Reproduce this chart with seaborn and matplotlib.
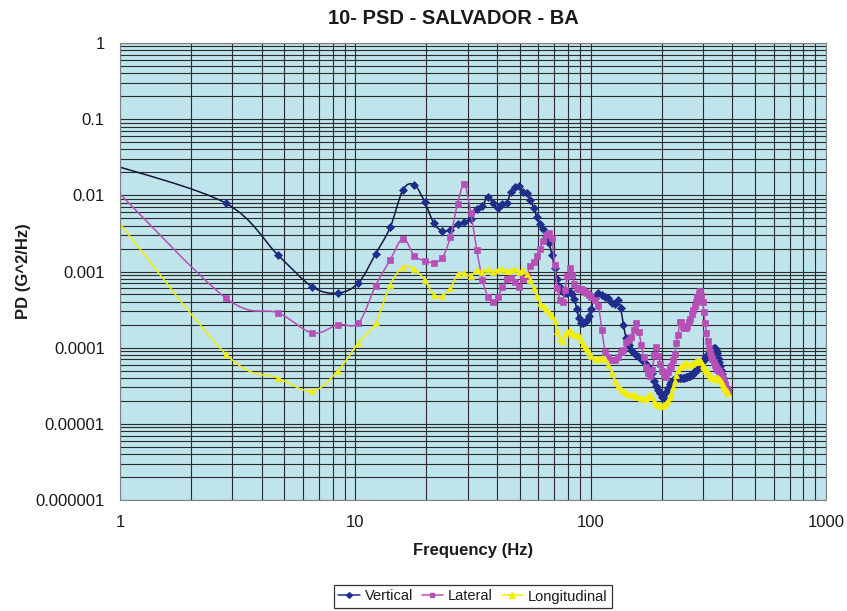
import numpy as np
import pandas as pd
import matplotlib
matplotlib.use("Agg")
import matplotlib.pyplot as plt
import seaborn as sns
from matplotlib.ticker import FixedLocator, FixedFormatter, LogLocator, NullFormatter
from matplotlib.path import Path
from matplotlib.patches import PathPatch
from matplotlib.lines import Line2D

# ---------------- data ----------------
freq = [0.9375, 2.8125, 4.6875, 6.5625, 8.4375, 10.3125, 12.1875, 14.0625, 15.9375, 17.8125,
        19.6875, 21.5625, 23.4375, 25.3125, 27.1875, 29.0625, 30.9375, 32.8125, 34.6875, 36.5625,
        38.4375, 40.3125, 42.1875, 44.0625, 45.9375, 47.8125, 49.6875, 51.5625, 53.4375, 55.3125,
        57.1875, 59.0625, 60.9375, 62.8125, 64.6875, 66.5625, 68.4375, 70.3125, 72.1875, 74.0625,
        75.9375, 77.8125, 79.6875, 81.5625, 83.4375, 85.3125, 87.1875, 89.0625, 90.9375, 92.8125,
        94.6875, 96.5625, 98.4375, 100.3125,
        104.0625, 107.8125, 111.5625, 115.3125, 119.0625, 122.8125, 126.5625, 130.3125, 134.0625, 137.8125,
        141.5625, 145.3125, 149.0625, 152.8125, 156.5625, 160.3125, 164.0625, 167.8125, 171.5625, 175.3125,
        179.0625, 182.8125, 186.5625, 190.3125, 194.0625, 197.8125, 201.5625, 205.3125, 209.0625, 212.8125,
        216.5625, 220.3125, 224.0625, 227.8125, 231.5625, 235.3125, 239.0625, 242.8125, 246.5625, 250.3125,
        254.0625, 257.8125, 261.5625, 265.3125, 269.0625, 272.8125, 276.5625, 280.3125, 284.0625, 287.8125,
        291.5625, 295.3125, 299.0625, 302.8125, 306.5625, 310.3125, 314.0625, 317.8125, 321.5625, 325.3125,
        329.0625, 332.8125, 336.5625, 340.3125, 344.0625, 347.8125, 351.5625, 355.3125, 359.0625, 362.8125,
        366.5625, 370.3125, 374.0625, 377.8125, 381.5625]

vertical = [0.025, 0.0079, 0.00165, 0.00063, 0.00052, 0.00071, 0.0017, 0.0038, 0.0118, 0.0137,
            0.00826, 0.0043, 0.00341, 0.00352, 0.00418, 0.00444, 0.00495, 0.00657, 0.00732, 0.00962,
            0.00788, 0.0069, 0.00764, 0.00802, 0.0112, 0.0128, 0.0134, 0.0112,
            0.0106, 0.0087, 0.00684, 0.0052, 0.00421, 0.00362, 0.00293, 0.00237, 0.00165, 0.00112,
            0.0008, 0.000628, 0.00054, 0.000524, 0.000524, 0.00054, 0.000508, 0.000437, 0.000323, 0.000246,
            0.000211, 0.000211, 0.000218, 0.000232, 0.000261, 0.000323,
            0.00045, 0.000524, 0.000493, 0.000464, 0.00045, 0.000387, 0.000376, 0.000424, 0.000333, 0.000199,
            0.000134, 0.000109, 0.0000936, 0.0000855, 0.0000804, 0.0000757, 0.0000713, 0.0000651, 0.0000613, 0.000056,
            0.0000527, 0.0000467, 0.0000367, 0.0000316, 0.000028, 0.0000255, 0.0000226, 0.0000219, 0.0000263, 0.0000297,
            0.0000335, 0.0000356, 0.0000378, 0.000039, 0.0000396, 0.0000401, 0.0000401, 0.0000401, 0.0000401, 0.0000401,
            0.0000408, 0.0000414, 0.000042, 0.0000427, 0.000044, 0.000046, 0.0000481, 0.0000511, 0.0000543, 0.0000577,
            0.0000613, 0.0000651, 0.0000671, 0.0000692, 0.0000735, 0.0000781, 0.0000804, 0.0000829, 0.0000881, 0.0000936,
            0.0000964, 0.0001, 0.0001, 0.0000936, 0.0000855, 0.0000735, 0.0000651, 0.0000577, 0.0000511, 0.0000453,
            0.0000401, 0.0000356, 0.0000316, 0.0000288, 0.0000271]

lateral = [0.0128, 0.00045, 0.000286, 0.000156, 0.0002, 0.000211, 0.00065, 0.00142, 0.00271, 0.0016,
           0.00139, 0.00131, 0.00152, 0.00282, 0.00771, 0.0141, 0.00593, 0.00192, 0.000776, 0.000469,
           0.000403, 0.00046, 0.000634, 0.000792, 0.000817, 0.000737, 0.000634, 0.0008,
           0.000874, 0.00117, 0.00134, 0.0016, 0.00198, 0.00252, 0.00302, 0.00321, 0.00276, 0.00122,
           0.000609, 0.000424, 0.000399, 0.000573, 0.000875, 0.00112, 0.000902, 0.000688, 0.000609, 0.000591,
           0.000591, 0.000573, 0.00054, 0.000524, 0.000493, 0.000464,
           0.000424, 0.000354, 0.000171, 0.0000881, 0.0000757, 0.0000692, 0.0000692, 0.0000757, 0.0000881, 0.0000936,
           0.000119, 0.000127, 0.000139, 0.000171, 0.000211, 0.000161, 0.000109, 0.0000757, 0.000056, 0.0000467,
           0.0000427, 0.0000511, 0.0000804, 0.000102, 0.0000781, 0.0000613, 0.0000496, 0.000044, 0.0000414, 0.0000481,
           0.0000543, 0.0000577, 0.0000692, 0.0000829, 0.000116, 0.000147, 0.000218, 0.000218, 0.000188, 0.000182,
           0.000182, 0.000193, 0.000218, 0.000238, 0.000277, 0.000313, 0.000354, 0.000399, 0.000464, 0.000524,
           0.000557, 0.000478, 0.000399, 0.000295, 0.000211, 0.000156, 0.000123, 0.0001, 0.0000881, 0.0000781,
           0.0000713, 0.0000651, 0.0000595, 0.000056, 0.0000527, 0.0000511, 0.0000496, 0.0000467, 0.000044, 0.0000414,
           0.000039, 0.0000356, 0.0000325, 0.0000288, 0.0000263]

longitudinal = [0.0055, 0.000083, 0.00004, 0.000027, 0.00005, 0.000116, 0.00021, 0.00067, 0.00114, 0.00107,
                0.000776, 0.000493, 0.000483, 0.000604, 0.000922, 0.00095, 0.000875, 0.00105, 0.001, 0.00107,
                0.001, 0.00105, 0.00107, 0.00102, 0.00105, 0.00107, 0.001, 0.00105,
                0.00093, 0.000776, 0.000604, 0.000478, 0.000387, 0.000354, 0.000323, 0.000295, 0.000261, 0.000225,
                0.000166, 0.00013, 0.000123, 0.000152, 0.000161, 0.000171, 0.000156, 0.000147, 0.000147, 0.000143,
                0.000127, 0.000112, 0.000102, 0.0000964, 0.0000881, 0.0000781,
                0.0000713, 0.0000713, 0.0000735, 0.0000713, 0.0000595, 0.0000467, 0.0000367, 0.0000316, 0.0000288, 0.0000271,
                0.0000255, 0.0000247, 0.000024, 0.000024, 0.0000233, 0.0000226, 0.0000219, 0.0000213, 0.0000213, 0.0000233,
                0.0000247, 0.0000226, 0.00002, 0.0000183, 0.0000177, 0.0000172, 0.0000172, 0.0000177, 0.0000189, 0.0000207,
                0.0000226, 0.0000255, 0.0000306, 0.0000367, 0.000044, 0.0000511, 0.000056, 0.0000577, 0.0000595, 0.0000613,
                0.0000632, 0.0000613, 0.0000595, 0.0000595, 0.0000613, 0.0000632, 0.0000651, 0.0000651, 0.0000671, 0.0000692,
                0.0000692, 0.0000651, 0.0000595, 0.000056, 0.0000527, 0.0000496, 0.0000481, 0.0000453, 0.0000427, 0.0000414,
                0.0000401, 0.000039, 0.000039, 0.0000401, 0.0000401, 0.0000401, 0.000039, 0.0000378, 0.0000367, 0.0000346,
                0.0000325, 0.0000306, 0.0000288, 0.0000271, 0.0000255]

series_names = ["Vertical", "Lateral", "Longitudinal"]
title_text = "10- PSD - SALVADOR - BA"
x_label = "Frequency (Hz)"
y_label = "PD (G^2/Hz)"
x_ticks = [1, 10, 100, 1000]
x_tick_labels = ["1", "10", "100", "1000"]
y_ticks = [1e-6, 1e-5, 1e-4, 1e-3, 1e-2, 1e-1, 1]
y_tick_labels = ["0.000001", "0.00001", "0.0001", "0.001", "0.01", "0.1", "1"]

# ---------------- plotting ----------------
sns.set_style("white")
plt.rcParams["font.family"] = ["Liberation Sans", "DejaVu Sans"]

df = pd.DataFrame({
    "Frequency": freq * 3,
    "PD": vertical + lateral + longitudinal,
    "Series": [series_names[0]] * len(vertical) + [series_names[1]] * len(lateral)
              + [series_names[2]] * len(longitudinal),
})

fig = plt.figure(figsize=(8.47, 6.11), dpi=100)
ax = fig.add_axes([120 / 847, 1 - 500 / 611, 706 / 847, 457 / 611])
ax.set_facecolor("#c0e4ec")

styles = {
    "Vertical": dict(line="#15183f", marker="D", ms=3.6, mc="#1f2e8c"),
    "Lateral": dict(line="#b64fb6", marker="s", ms=4.2, mc="#b64fb6"),
    "Longitudinal": dict(line="#f2ee00", marker="^", ms=4.8, mc="#f2ee00"),
}


def smoothed_path(xs, ys):
    """Excel-like smoothed line: cubic Bezier segments through the points (log-log space)."""
    P = np.column_stack([np.log10(xs), np.log10(ys)])
    n = len(P)
    verts = [P[0]]
    codes = [Path.MOVETO]
    for i in range(n - 1):
        p0 = P[i - 1] if i > 0 else P[i]
        p1, p2 = P[i], P[i + 1]
        p3 = P[i + 2] if i + 2 < n else P[i + 1]
        verts += [p1 + (p2 - p0) / 6.0, p2 - (p3 - p1) / 6.0, p2]
        codes += [Path.CURVE4] * 3
    return Path(10 ** np.array(verts), codes)


handles = []
for i, name in enumerate(series_names):
    st = styles[name]
    sub = df[df["Series"] == name]
    patch = PathPatch(smoothed_path(sub["Frequency"].to_numpy(), sub["PD"].to_numpy()),
                      facecolor="none", edgecolor=st["line"], linewidth=1.1,
                      zorder=2 + i * 0.1)
    ax.add_patch(patch)
    sns.lineplot(data=sub, x="Frequency", y="PD", ax=ax, estimator=None, sort=False,
                 linestyle="none", marker=st["marker"], markersize=st["ms"],
                 markerfacecolor=st["mc"], markeredgecolor=st["mc"], markeredgewidth=0.5,
                 color=st["mc"], zorder=2.05 + i * 0.1, legend=False)
    handles.append(Line2D([], [], color=st["mc"] if name == "Vertical" else st["line"],
                          linewidth=1.1, marker=st["marker"], markersize=st["ms"] * 0.8,
                          markerfacecolor=st["mc"], markeredgecolor=st["mc"], label=name))

ax.set_xscale("log")
ax.set_yscale("log")
ax.set_xlim(1, 1000)
ax.set_ylim(1e-6, 1)

ax.xaxis.set_major_locator(FixedLocator(x_ticks))
ax.xaxis.set_major_formatter(FixedFormatter(x_tick_labels))
ax.yaxis.set_major_locator(FixedLocator(y_ticks))
ax.yaxis.set_major_formatter(FixedFormatter(y_tick_labels))
ax.xaxis.set_minor_locator(LogLocator(base=10, subs=np.arange(2, 10), numticks=20))
ax.yaxis.set_minor_locator(LogLocator(base=10, subs=np.arange(2, 10), numticks=20))
ax.xaxis.set_minor_formatter(NullFormatter())
ax.yaxis.set_minor_formatter(NullFormatter())

ax.grid(True, which="both", color="#2b2b2b", linewidth=0.8)
ax.set_axisbelow(True)
ax.tick_params(which="major", length=4, width=0.8, color="#808080",
               labelsize=12, labelcolor="#1a1a1a", pad=7, direction="out")
ax.tick_params(which="minor", length=0)
for side in ["left", "bottom", "top", "right"]:
    ax.spines[side].set_color("#808080")
    ax.spines[side].set_linewidth(0.8)

ax.set_xlabel(x_label, fontsize=12, fontweight="bold", color="#1a1a1a")
ax.set_ylabel(y_label, fontsize=12, fontweight="bold", color="#1a1a1a")
ax.xaxis.set_label_coords(0.5, (500 - 543) / 457)
ax.yaxis.set_label_coords((31 - 120) / 706, 0.5)

fig.text(453 / 847, 1 - 18 / 611, title_text, ha="center", va="center",
         fontsize=14.5, fontweight="bold", color="#1a1a1a")

leg = ax.legend(handles=handles, loc="center", bbox_to_anchor=(473 / 847, 1 - 596.5 / 611),
                bbox_transform=fig.transFigure, ncol=3, frameon=True,
                fancybox=False, edgecolor="black", fontsize=10.5,
                handlelength=1.45, handletextpad=0.35, columnspacing=0.6,
                borderpad=0.3, borderaxespad=0)
leg.get_frame().set_linewidth(0.9)
for t in leg.get_texts():
    t.set_color("#1a1a1a")

fig.savefig("out.png", dpi=100)
